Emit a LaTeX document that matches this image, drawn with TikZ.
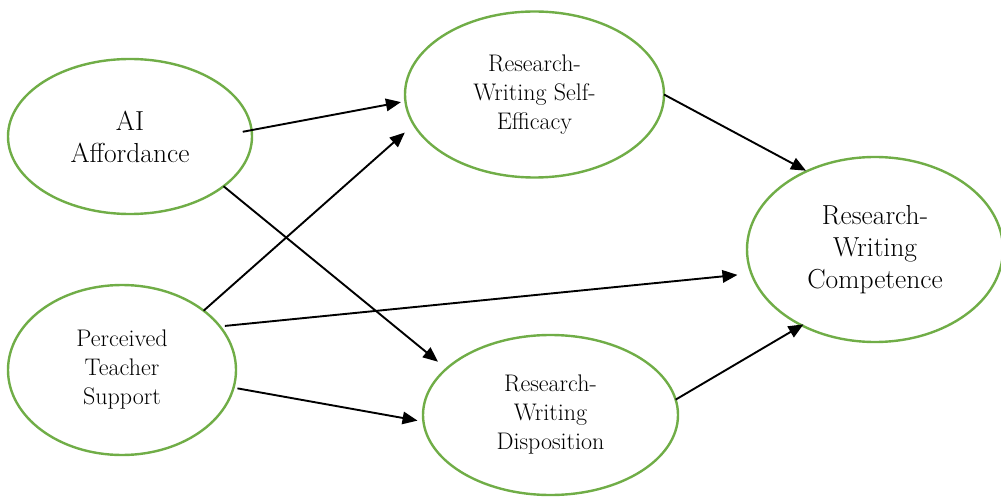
\documentclass[tikz,border=0pt]{standalone}
\usetikzlibrary{shapes.geometric,arrows.meta}
\definecolor{ellgreen}{RGB}{112,173,71}
\begin{document}
\begin{tikzpicture}[x=1pt,y=1pt,
  latent/.style={ellipse,draw=ellgreen,line width=2.4pt,inner sep=0pt,outer sep=0pt,align=center},
  bigtxt/.style={font=\fontsize{27.5}{32}\selectfont},
  smalltxt/.style={font=\fontsize{24}{29}\selectfont},
  arr/.style={draw=black,line width=1.9pt,-{Triangle[length=15pt,width=12.5pt]}}]
\useasboundingbox (0,0) rectangle (1001,-497);
\node[latent,bigtxt,minimum width=244pt,minimum height=155pt] (ai) at (130,-136.5) {AI\\Affordance};
\node[latent,smalltxt,minimum width=259pt,minimum height=166pt] (se) at (534.5,-94.5) {Research-\\Writing Self-\\Efficacy};
\node[latent,bigtxt,minimum width=256pt,minimum height=185pt] (comp) at (875,-249.5) {Research-\\Writing\\Competence};
\node[latent,smalltxt,minimum width=228pt,minimum height=170pt] (pts) at (122,-370) {Perceived\\Teacher\\Support};
\node[latent,smalltxt,minimum width=255pt,minimum height=160pt] (disp) at (550.5,-415) {Research-\\Writing\\Disposition};
\draw[arr,shorten <=-9pt,shorten >=4.6pt] (ai.3.8) -- (se.183.6);
\draw[arr,shorten >=11pt] (ai.-28.3) -- (disp.156);
\draw[arr,shorten >=12pt] (pts.36.8) -- (se.194.9);
\draw[arr,shorten <=5pt,shorten >=14pt] (pts.24.1) -- (comp.191.5);
\draw[arr,shorten <=4pt,shorten >=6pt] (pts.-9.3) -- (disp.183);
\draw[arr,shorten >=1pt] (se.0) -- (comp.131.7);
\draw[arr,shorten >=-2pt] (disp.7.3) -- (comp.226);
\end{tikzpicture}
\end{document}
